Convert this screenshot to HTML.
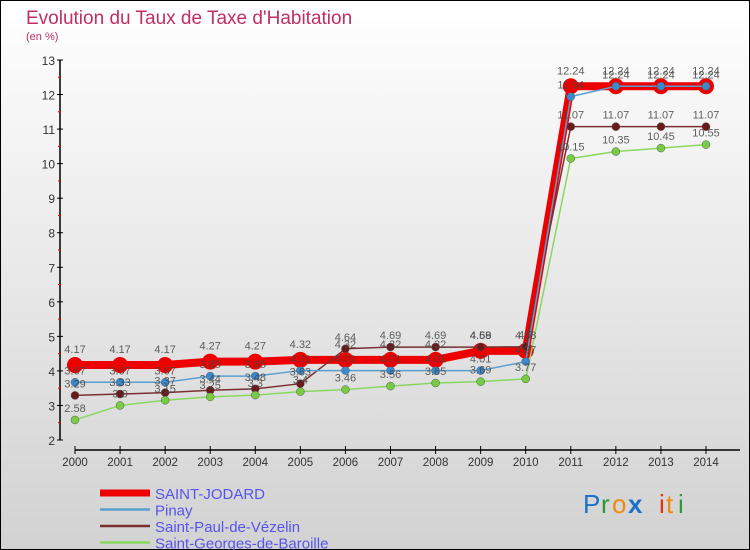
<!DOCTYPE html>
<html><head><meta charset="utf-8"><style>
html,body{margin:0;padding:0}
body{width:750px;height:550px;overflow:hidden;font-family:"Liberation Sans",sans-serif}
svg{display:block}
</style></head><body>
<svg id="chart" width="750" height="550" xmlns="http://www.w3.org/2000/svg">
<defs><linearGradient id="bg" x1="0" y1="0" x2="0" y2="1"><stop offset="0" stop-color="#ffffff"/><stop offset="1" stop-color="#d2d2d2"/></linearGradient></defs>
<rect x="0.5" y="0.5" width="749" height="549" fill="url(#bg)" stroke="#000"/>
<text x="26" y="24" font-size="19" fill="#c0305f">Evolution du Taux de Taxe d'Habitation</text>
<text x="26" y="40" font-size="11" fill="#c0305f">(en %)</text>
<g id="axes"></g>
<g id="series"></g>
<g id="labels"></g>
<g id="legend"></g>
<g font-size="26" font-family="'Liberation Sans',sans-serif">
<text x="583" y="513" fill="#1a73c8">P</text><text x="601" y="513" fill="#2a9a3a">r</text><text x="612" y="513" fill="#f08a10">o</text><text x="628" y="513" fill="#1a73c8" font-weight="bold">x</text><text x="659" y="513" fill="#e83010">i</text><text x="666" y="513" fill="#f08a10">t</text><text x="678" y="513" fill="#2a9a3a">i</text>
</g>
</svg>
<script>
const years=[2000,2001,2002,2003,2004,2005,2006,2007,2008,2009,2010,2011,2012,2013,2014];
const saintJodard=[4.17,4.17,4.17,4.27,4.27,4.32,4.32,4.32,4.32,4.58,4.58,12.24,12.24,12.24,12.24];
const pinay=[3.67,3.67,3.67,3.85,3.85,4.01,4.01,4.01,4.01,4.01,4.27,11.94,12.24,12.24,12.24];
const saintGeorges=[2.58,3.0,3.15,3.25,3.3,3.4,3.46,3.56,3.65,3.69,3.77,10.15,10.35,10.45,10.55];
const saintPaul=[3.29,3.33,3.37,3.44,3.48,3.63,4.64,4.69,4.69,4.69,4.70,11.07,11.07,11.07,11.07];
const yTicks=[2,3,4,5,6,7,8,9,10,11,12,13];
const NS="http://www.w3.org/2000/svg";
const x=i=>75+i*(706-75)/(years.length-1);
const y=v=>440-(v-2)*(440-60)/11;
function mk(tag,attrs,parent){const e=document.createElementNS(NS,tag);for(const k in attrs)e.setAttribute(k,attrs[k]);parent.appendChild(e);return e;}
const axes=document.getElementById('axes'),ser=document.getElementById('series'),lab=document.getElementById('labels'),leg=document.getElementById('legend');
let a=mk('line',{x1:60,y1:y(13),x2:60,y2:y(2),stroke:'#000','stroke-width':1.5},axes);


a=mk('line',{x1:75,y1:450,x2:740,y2:450,stroke:'#000','stroke-width':1.5},axes);


yTicks.forEach(t=>{
 mk('line',{x1:57,y1:y(t),x2:63,y2:y(t),stroke:'#000'},axes);
 if(t<13)mk('line',{x1:58,y1:y(t+0.5),x2:61,y2:y(t+0.5),stroke:'#e00'},axes);
 const tx=mk('text',{x:55,y:y(t)+5,'text-anchor':'end','font-size':12,fill:'#333'},axes);tx.textContent=t;
 
 
});
years.forEach((yr,i)=>{
 mk('line',{x1:x(i),y1:446,x2:x(i),y2:454,stroke:'#000'},axes);
 const tx=mk('text',{x:x(i),y:466,'text-anchor':'middle','font-size':11.5,fill:'#333'},axes);tx.textContent=yr;
 
 
});
const series=[
 {name:'saint-georges',label:'Saint-Georges-de-Baroille',data:saintGeorges,color:'#88d860',w:1.5,r:4,mc:'#77cc44',ld:-8},
 {name:'saint-paul',label:'Saint-Paul-de-Vézelin',data:saintPaul,color:'#7a3030',w:1.5,r:4,mc:'#6a1a1a',ld:-8},
 {name:'pinay',label:'Pinay',data:pinay,color:'#5a9ed0',w:1.5,r:4,mc:'#3a8ad0',ld:-8},
 {name:'saint-jodard',label:'SAINT-JODARD',data:saintJodard,color:'#ee0000',w:8,r:8,mc:'#ee0000',ld:-12}
];
series.slice().reverse().forEach(s=>{});
// draw red first so others on top? reference: red under blue
const order=[series[3],series[1],series[0],series[2]];
order.forEach(s=>{
 const g=mk('g',{},ser);
 
 
 const p=mk('polyline',{points:s.data.map((v,i)=>x(i)+','+y(v)).join(' '),fill:'none',stroke:s.color,'stroke-width':s.w,'stroke-linejoin':'round'},g);
 
 
 s.data.forEach((v,i)=>{
  const c=mk('circle',{cx:x(i),cy:y(v),r:s.r,fill:s.mc,stroke:s.r>5?'#ee0000':'#555','stroke-width':s.r>5?0:0.5},g);
  
  
  const t=mk('text',{x:x(i),y:y(v)+s.ld,'text-anchor':'middle','font-size':11,fill:'#444','fill-opacity':0.85},lab);
  t.textContent=v.toFixed(2).replace(/0$/,'').replace(/\.$/,'');
  
  
 });
});
series.slice().reverse().forEach((s,k)=>{
 const yy=493+k*16.5;
 const l=mk('line',{x1:100,y1:yy,x2:150,y2:yy,stroke:s.color,'stroke-width':s.w>2?7:2.5},leg);
 
 
 const t=mk('text',{x:155,y:yy+6,'font-size':15,fill:'#5555ee'},leg);t.textContent=s.label;
 
 
});
</script>
</body></html>
